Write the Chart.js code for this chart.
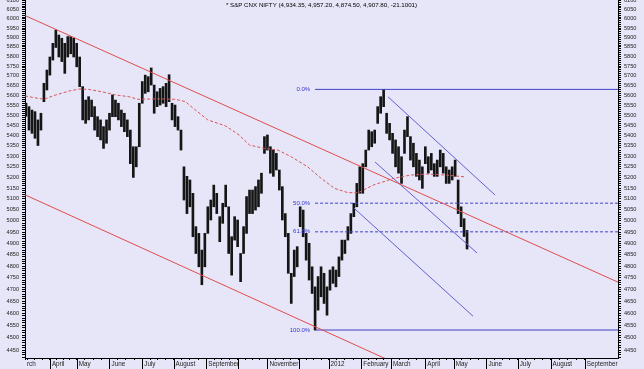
<!DOCTYPE html>
<html>
<head>
<meta charset="utf-8">
<title>S&P CNX NIFTY</title>
<script src="https://cdn.jsdelivr.net/npm/chart.js@4.4.1/dist/chart.umd.min.js"></script>
<style>
  html, body { margin: 0; padding: 0; background: #e6e6f8; }
  canvas { display: block; }
</style>
</head>
<body>
<canvas id="myChart" width="644" height="369"></canvas>
<script>
// // DATA (one bar = two trading sessions, x = session number)

let highs = [
  5560, 5543, 5526, 5518, 5477, 5510, 5661, 5729, 5797, 5869,
  5940, 5913, 5896, 5869, 5905, 5905, 5896, 5869, 5797, 5644,
  5576, 5593, 5576, 5543, 5493, 5477, 5444, 5477, 5510, 5602,
  5576, 5560, 5526, 5510, 5477, 5427, 5346, 5346, 5560, 5670,
  5703, 5695, 5740, 5652, 5618, 5635, 5644, 5661, 5705, 5560,
  5551, 5493, 5427, 5250, 5205, 5188, 5126, 4974, 4944, 4870,
  4944, 5064, 5095, 5164, 5126, 5019, 5080, 5164, 5064, 4929,
  5019, 5004, 4855, 4974, 5111, 5141, 5141, 5157, 5188, 5220,
  5395, 5403, 5346, 5330, 5314, 5235, 5157, 5033, 4944, 4769,
  4870, 4885, 5064, 5049, 4944, 4900, 4797, 4711, 4755, 4797,
  4769, 4711, 4783, 4797, 4783, 4840, 4914, 4914, 4974, 5033,
  5080, 5172, 5250, 5265, 5330, 5427, 5419, 5427, 5543, 5593,
  5630, 5510, 5460, 5411, 5379, 5346, 5298, 5427, 5493, 5395,
  5363, 5314, 5282, 5250, 5346, 5298, 5314, 5265, 5282, 5330,
  5314, 5250, 5235, 5250, 5282, 5188, 5064, 5010, 4957.2
];
let lows = [
  5495, 5427, 5411, 5387, 5352, 5427, 5568, 5627, 5703, 5781,
  5847, 5797, 5773, 5712, 5797, 5814, 5797, 5746, 5644, 5477,
  5460, 5477, 5493, 5427, 5395, 5379, 5338, 5363, 5427, 5493,
  5493, 5477, 5444, 5419, 5395, 5265, 5200, 5250, 5346, 5560,
  5610, 5618, 5652, 5510, 5543, 5551, 5560, 5543, 5568, 5477,
  5444, 5427, 5330, 5095, 5033, 5064, 4929, 4855, 4797, 4720,
  4797, 4944, 5004, 5064, 5033, 4907, 4989, 5064, 4855, 4761,
  4914, 4885, 4733, 4855, 4944, 5033, 5033, 5049, 5064, 5126,
  5314, 5330, 5220, 5205, 5235, 5141, 5004, 4929, 4769, 4641,
  4755, 4797, 4974, 4929, 4826, 4740, 4683, 4531, 4613, 4669,
  4641, 4592, 4697, 4726, 4711, 4755, 4826, 4855, 4914, 4944,
  5019, 5064, 5126, 5126, 5250, 5330, 5346, 5363, 5460, 5510,
  5543, 5411, 5379, 5314, 5250, 5220, 5172, 5314, 5395, 5282,
  5250, 5205, 5188, 5149, 5265, 5220, 5235, 5205, 5205, 5250,
  5220, 5172, 5172, 5188, 5205, 5033, 4974, 4930, 4874.5
];

// dashed moving average
let maDays = [-0.7, 4, 12, 20, 29, 36, 42, 51, 60, 69, 75, 87, 100, 107, 113,
  122, 134, 143, 150, 160, 169, 178, 189, 198, 207, 216, 223, 233, 247, 258, 269, 282, 294];
let maValues = [5597, 5590, 5580, 5602, 5622, 5632, 5630, 5618, 5602, 5593, 5580, 5582, 5580, 5568, 5530,
  5477, 5447, 5403, 5354, 5338, 5330, 5298, 5250, 5196, 5149, 5129, 5129, 5164, 5196, 5211, 5216, 5211, 5203];

// trend lines
let redTopDays = [-0.7, 397.3];
let redTopValues = [6018, 4731];
let redLowDays = [-0.7, 251];
let redLowValues = [5119, 4389];
let blueTopDays = [243, 314.8];
let blueTopValues = [5592, 5118];
let blueMidDays = [234.2, 302.7];
let blueMidValues = [5273, 4857];
let blueLowDays = [220.1, 300];
let blueLowValues = [5058, 4588];

// fibonacci levels
let fibNames = ['0.0%', '50.0%', '61.8%', '100.0%'];
let fibLevels = [5630, 5080.5, 4950.8, 4531];
let fibStart = 194;

// axis
let monthDays = [-0.7, 16, 34, 56, 78, 99, 121, 142, 162, 183, 203, 225, 245, 268, 287, 309, 330, 352, 375];
let monthNames = ['rch', 'April', 'May', 'June', 'July', 'August', 'September', '', 'November', '',
  '2012', 'February', 'March', 'April', 'May', 'June', 'July', 'August', 'September'];
let xMin = -0.7;
let xMax = 397.3;
let yMin = 4418;
let yMax = 6103;

let titleText = '* S&P CNX NIFTY (4,934.35, 4,957.20, 4,874.50, 4,907.80, -21.1001)';

// // BUILD

let barData = [];
for (let i = 0; i < highs.length; i++) {
  barData.push({ x: i * 2, y: [lows[i], highs[i]] });
}

function pairs(days, values) {
  let out = [];
  for (let i = 0; i < days.length; i++) {
    out.push({ x: days[i], y: values[i] });
  }
  return out;
}

// weekly ticks between the month ticks
let xTicks = [];
let labelFor = {};
for (let i = 0; i < monthDays.length; i++) {
  xTicks.push(monthDays[i]);
  labelFor[monthDays[i]] = monthNames[i];
  if (i > 0 && i < monthDays.length - 1) {
    let step = (monthDays[i + 1] - monthDays[i]) / 4;
    for (let k = 1; k < 4; k++) xTicks.push(monthDays[i] + step * k);
  }
}
for (let k = 1; k < 4; k++) xTicks.push(monthDays[1] - 5 * k);

let yTicks = [];
for (let v = 4420; v <= 6100; v += 10) yTicks.push(v);

function lineSet(data, color, dash) {
  return {
    type: 'line',
    data: data,
    borderColor: color,
    borderWidth: 1,
    borderDash: dash || [],
    pointRadius: 0,
    fill: false,
    tension: 0,
    order: 1
  };
}

let fibSets = [];
for (let i = 0; i < fibLevels.length; i++) {
  let dashed = fibNames[i] === '50.0%' || fibNames[i] === '61.8%';
  fibSets.push(lineSet(pairs([fibStart, xMax], [fibLevels[i], fibLevels[i]]), '#4040c8', dashed ? [3, 2] : []));
}

let font = { family: '"Liberation Sans", Arial, sans-serif', size: 5.6 };

function yAxis(position) {
  return {
    type: 'logarithmic',
    position: position,
    min: yMin,
    max: yMax,
    bounds: 'data',
    border: { display: true, color: '#000' },
    grid: { drawOnChartArea: false, drawTicks: true, tickLength: 3, color: '#000' },
    ticks: {
      autoSkip: false,
      padding: 3,
      color: '#222',
      font: font,
      callback: (value) => (value % 50 === 0 ? String(value) : '')
    },
    afterBuildTicks: (scale) => { scale.ticks = yTicks.map(v => ({ value: v })); },
    afterFit: (scale) => {
      scale.width = position === 'left' ? 25 : 26;
      scale.paddingTop = 0;
      scale.paddingBottom = 0;
    }
  };
}

const extras = {
  id: 'extras',
  afterDraw(chart) {
    const ctx = chart.ctx;
    const xs = chart.scales.x;
    const ys = chart.scales.y;
    const area = chart.chartArea;
    ctx.save();
    ctx.strokeStyle = '#000';
    ctx.lineWidth = 1;
    for (let i = 1; i < monthDays.length; i++) {
      let px = Math.round(xs.getPixelForValue(monthDays[i])) + 0.5;
      ctx.beginPath();
      ctx.moveTo(px, area.bottom);
      ctx.lineTo(px, chart.height);
      ctx.stroke();
    }
    ctx.font = '6px "Liberation Sans", Arial, sans-serif';
    ctx.fillStyle = '#3535d0';
    ctx.textAlign = 'right';
    ctx.textBaseline = 'middle';
    for (let i = 0; i < fibLevels.length; i++) {
      ctx.fillText(fibNames[i], xs.getPixelForValue(fibStart) - 5, ys.getPixelForValue(fibLevels[i]));
    }
    ctx.fillStyle = '#000';
    ctx.textAlign = 'center';
    ctx.font = '6.2px "Liberation Sans", Arial, sans-serif';
    ctx.fillText(titleText, (area.left + area.right) / 2, 5);
    ctx.restore();
  }
};

const config = {
  type: 'bar',
  data: {
    datasets: [
      lineSet(pairs(maDays, maValues), '#d85454', [3, 2]),
      lineSet(pairs(redTopDays, redTopValues), '#e04c4c'),
      lineSet(pairs(redLowDays, redLowValues), '#e04c4c'),
      lineSet(pairs(blueTopDays, blueTopValues), '#6060d0'),
      lineSet(pairs(blueMidDays, blueMidValues), '#6060d0'),
      lineSet(pairs(blueLowDays, blueLowValues), '#6060d0'),
      ...fibSets,
      {
        type: 'bar',
        data: barData,
        backgroundColor: '#151515',
        barThickness: 2,
        order: 5
      }
    ]
  },
  options: {
    responsive: false,
    devicePixelRatio: 1,
    animation: false,
    layout: { padding: 0 },
    plugins: {
      legend: { display: false },
      tooltip: { enabled: false },
      title: { display: false }
    },
    scales: {
      x: {
        type: 'linear',
        min: xMin,
        max: xMax,
        bounds: 'data',
        offset: false,
        border: { display: true, color: '#000' },
        grid: { drawOnChartArea: false, drawTicks: true, tickLength: 2, color: '#000', offset: false },
        ticks: {
          autoSkip: false,
          maxRotation: 0,
          align: 'start',
          labelOffset: 2,
          padding: 0,
          color: '#222',
          font: { family: '"Liberation Sans", Arial, sans-serif', size: 6.3 },
          callback: (value) => labelFor[value] || ''
        },
        afterBuildTicks: (scale) => { scale.ticks = xTicks.map(v => ({ value: v })); },
        afterFit: (scale) => {
          scale.height = 11;
          scale.paddingLeft = 0;
          scale.paddingRight = 0;
        }
      },
      y: yAxis('left'),
      y2: yAxis('right')
    }
  },
  plugins: [extras]
};

const myChart = new Chart(document.getElementById('myChart'), config);
</script>
</body>
</html>
